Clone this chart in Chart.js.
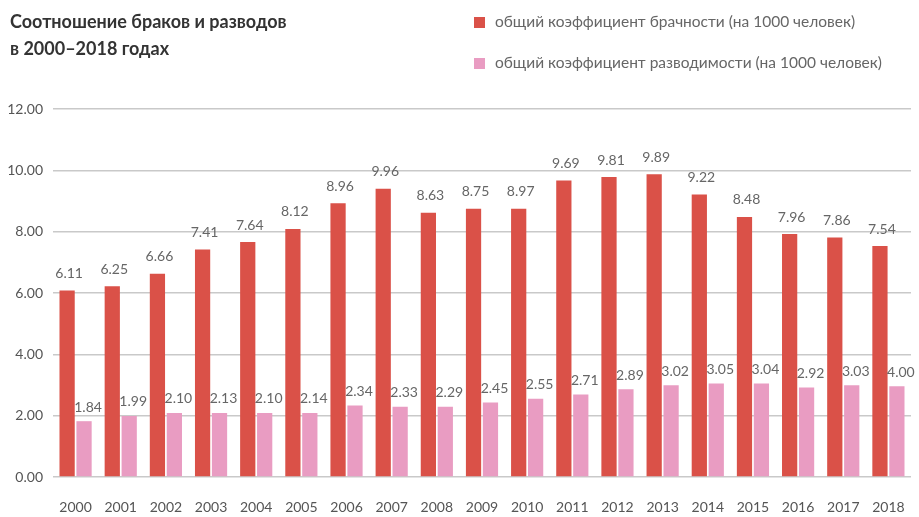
<!DOCTYPE html>
<html>
<head>
<meta charset="utf-8">
<script src="https://cdn.jsdelivr.net/npm/chart.js@4"></script>
<style>
  body { margin: 0; background: #fff; font-family: Lato, sans-serif; }
  #wrap { position: relative; width: 919px; height: 517px; }
  #title { position: absolute; left: 10px; top: 8px; font-weight: bold; font-size: 18px; line-height: 27px; color: #333; }
  #legend { position: absolute; left: 474px; top: 11px; font-size: 15.5px; color: #666; }
  #legend div { height: 20px; line-height: 20px; margin-bottom: 21px; }
  #legend span { display: inline-block; width: 11px; height: 11px; margin-right: 10px; vertical-align: -1px; }
  canvas { display: block; }
</style>
</head>
<body>
<div id="wrap">
  <div id="title">Соотношение браков и разводов<br>в 2000–2018 годах</div>
  <div id="legend"></div>
  <canvas id="bar_chart" width="919" height="517"></canvas>
</div>
<script>
var years = ["2000","2001","2002","2003","2004","2005","2006","2007","2008","2009","2010","2011","2012","2013","2014","2015","2016","2017","2018"];
var marriage = [6.08, 6.22, 6.63, 7.42, 7.66, 8.09, 8.93, 9.40, 8.62, 8.75, 8.75, 9.67, 9.78, 9.87, 9.21, 8.48, 7.92, 7.81, 7.53];
var divorce = [1.82, 1.99, 2.09, 2.09, 2.09, 2.09, 2.33, 2.29, 2.29, 2.43, 2.55, 2.69, 2.86, 2.99, 3.05, 3.05, 2.92, 2.99, 2.96];
var marriageText = ["6.11","6.25","6.66","7.41","7.64","8.12","8.96","9.96","8.63","8.75","8.97","9.69","9.81","9.89","9.22","8.48","7.96","7.86","7.54"];
var divorceText = ["1.84","1.99","2.10","2.13","2.10","2.14","2.34","2.33","2.29","2.45","2.55","2.71","2.89","3.02","3.05","3.04","2.92","3.03","4.00"];
var names = ["общий коэффициент брачности (на 1000 человек)", "общий коэффициент разводимости (на 1000 человек)"];
var colors = ["#da5148", "#e99cc2"];
var yTicks = [0, 2, 4, 6, 8, 10, 12];

var legend = document.getElementById("legend");
names.forEach(function (n, i) {
  var d = document.createElement("div");
  d.innerHTML = '<span style="background:' + colors[i] + '"></span>' + n;
  legend.appendChild(d);
});

var valueLabels = {
  id: "valueLabels",
  afterDatasetsDraw: function (chart) {
    var ctx = chart.ctx;
    var texts = [marriageText, divorceText];
    ctx.save();
    ctx.font = "14px Lato, sans-serif";
    ctx.fillStyle = "#666";
    ctx.textAlign = "center";
    ctx.textBaseline = "bottom";
    chart.data.datasets.forEach(function (ds, i) {
      chart.getDatasetMeta(i).data.forEach(function (bar, j) {
        ctx.fillText(texts[i][j], bar.x + (i == 1 ? 4 : 2), bar.y - (i == 1 ? 7 : 10));
      });
    });
    ctx.restore();
  }
};

new Chart(document.getElementById("bar_chart"), {
  type: "bar",
  data: {
    labels: years,
    datasets: [
      { label: names[0], data: marriage, backgroundColor: colors[0] },
      { label: names[1], data: divorce, backgroundColor: colors[1] }
    ]
  },
  options: {
    responsive: false,
    animation: false,
    layout: { padding: { top: 109, right: 8, left: 0, bottom: 0 } },
    categoryPercentage: 0.75,
    barPercentage: 0.9,
    plugins: {
      legend: { display: false },
      tooltip: { enabled: false }
    },
    scales: {
      x: {
        grid: { display: false },
        border: { display: false },
        afterFit: function (axis) { axis.height = 40; },
        ticks: { color: "#555", font: { family: "Lato", size: 14 }, padding: 14, maxRotation: 0 }
      },
      y: {
        min: 0,
        max: 12,
        afterBuildTicks: function (axis) { axis.ticks = yTicks.map(function (v) { return { value: v }; }); },
        afterFit: function (axis) { axis.width = 53; },
        border: { display: false },
        grid: { color: "#c9c9c9", lineWidth: 1.5, drawTicks: false },
        ticks: {
          color: "#555",
          font: { family: "Lato", size: 14 },
          padding: 10,
          callback: function (v) { return Number(v).toFixed(2); }
        }
      }
    }
  },
  plugins: [valueLabels]
});
</script>
</body>
</html>
